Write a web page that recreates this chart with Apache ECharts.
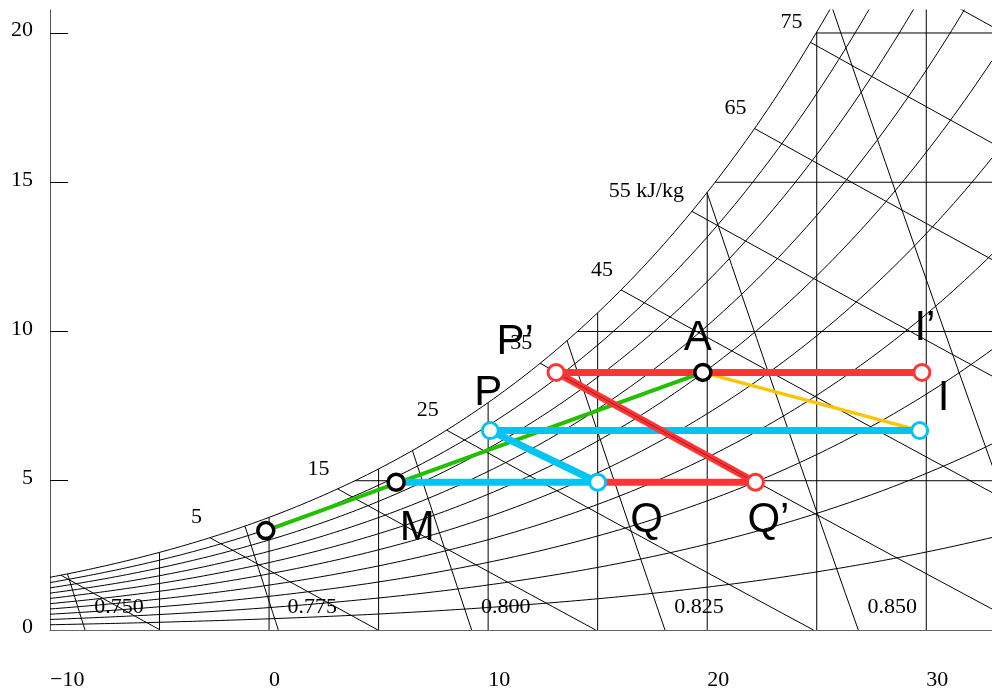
<!DOCTYPE html>
<html>
<head>
<meta charset="utf-8">
<script src="https://cdn.jsdelivr.net/npm/echarts@6/dist/echarts.min.js"></script>
<style>
  html, body { margin: 0; padding: 0; background: #fff; }
  #chart { width: 992px; height: 691px; }
</style>
</head>
<body>
<div id="chart"></div>
<script>
// axis ticks
const tempTicks = [-10, 0, 10, 20, 30];
const humTicks = [5, 10, 15, 20];

// chart grid levels
const dryBulbLines = [-5, 0, 5, 10, 15, 20, 25, 30];
const humidityLines = [5, 10, 15, 20];
const rhLevels = [0.1, 0.2, 0.3, 0.4, 0.5, 0.6, 0.7, 0.8, 0.9, 1.0];
const enthalpyLevels = [-5, 5, 15, 25, 35, 45, 55, 65, 75, 85];
const enthalpyLabels = ['', '5', '15', '25', '35', '45', '55 kJ/kg', '65', '75', ''];
const volumeLevels = [0.750, 0.775, 0.800, 0.825, 0.850, 0.875];
const volumeLabels = ['0.750', '0.775', '0.800', '0.825', '0.850', ''];

// state points: dry bulb (°C), humidity ratio (g/kg)
const pointNames = ['O', 'M', 'A', 'P', 'Q', 'P’', 'Q’', 'I', 'I’'];
const pointTemp = [-0.15, 5.8, 19.8, 10.1, 15.0, 13.1, 22.2, 29.7, 29.8];
const pointHum = [3.33, 4.95, 8.63, 6.68, 4.95, 8.63, 4.95, 6.68, 8.63];

// processes
const processFrom = ['O', 'M', 'P', 'P', 'A', 'Q', 'P’', 'P’'];
const processTo = ['A', 'Q', 'Q', 'I', 'I', 'Q’', 'Q’', 'I’'];

const T_MIN = -10, T_MAX = 33, W_MAX = 20.77, P_ATM = 101.325;

// styles
const colors = { black: '#000', red: '#ff3535', blue: '#00c4f4', green: '#22c000', yellow: '#f9c600' };
const processStyle = [
  { c: 'green', w: 4, z: 3 }, { c: 'blue', w: 7, z: 4 }, { c: 'blue', w: 7, z: 4 }, { c: 'blue', w: 7, z: 4 },
  { c: 'yellow', w: 3.5, z: 3 }, { c: 'red', w: 7, z: 5 }, { c: 'red', w: 7, z: 5 }, { c: 'red', w: 7, z: 5 }
];
const pointColor = { 'O': 'black', 'M': 'black', 'A': 'black', 'P': 'blue', 'Q': 'blue', 'I': 'blue', 'P’': 'red', 'Q’': 'red', 'I’': 'red' };
const letterOffset = {
  'M': [21, 46], 'A': [-5, -34], 'P': [-2, -37], 'Q': [49, 38],
  'P’': [-41, -30], 'Q’': [13, 38], 'I’': [3, -44], 'I': [24, -32]
};

// psychrometric relations
function satPressure(t) { return 0.61094 * Math.exp(17.625 * t / (t + 243.04)); }
function humRatio(t, rh) { const pw = rh * satPressure(t); return 622 * pw / (P_ATM - pw); }
function bisect(f, a, b) {
  for (let i = 0; i < 60; i++) {
    const m = (a + b) / 2;
    if (f(a) * f(m) <= 0) b = m; else a = m;
  }
  return (a + b) / 2;
}
function satTemp(w) { return bisect(t => humRatio(t, 1) - w, -40, 60); }
function enthalpyT(h, w) { return (h - 2.501 * w) / (1.006 + 0.00186 * w); }
function volumeT(v, w) { return v * P_ATM / (0.287042 * (1 + 0.0016078 * w)) - 273.15; }
function lineToSaturation(tOfW) {
  const wSat = bisect(w => humRatio(tOfW(w), 1) - w, 0, 40);
  const pts = [];
  for (let i = 0; i <= 12; i++) {
    const w = wSat * i / 12;
    pts.push([tOfW(w), w]);
  }
  return pts;
}

const series = [];
function gridCurve(data) {
  series.push({
    type: 'line', data, symbol: 'none', silent: true, animation: false, z: 2,
    lineStyle: { color: '#000', width: 1 }
  });
}

rhLevels.forEach(rh => {
  const pts = [];
  for (let t = T_MIN; t <= T_MAX + 0.001; t += 0.25) pts.push([t, humRatio(t, rh)]);
  gridCurve(pts);
});
dryBulbLines.forEach(t => gridCurve([[t, 0], [t, humRatio(t, 1)]]));
humidityLines.forEach(w => gridCurve([[satTemp(w), w], [T_MAX, w]]));

const enthalpyLines = enthalpyLevels.map(h => lineToSaturation(w => enthalpyT(h, w)));
enthalpyLines.forEach(gridCurve);
const volumeLines = volumeLevels.map(v => lineToSaturation(w => volumeT(v, w)));
volumeLines.forEach(gridCurve);

const serifText = { fontFamily: 'Liberation Serif', fontSize: 22, color: '#000' };

// enthalpy labels at saturation end
series.push({
  type: 'scatter', symbolSize: 0, silent: true, animation: false, z: 6,
  itemStyle: { opacity: 1 },
  data: enthalpyLines.map((pts, i) => ({ value: pts[pts.length - 1], name: enthalpyLabels[i] })),
  label: { show: true, position: 'inside', align: 'right', verticalAlign: 'middle', offset: [-8, -20], formatter: p => p.name, ...serifText }
});
// volume labels near bottom
series.push({
  type: 'scatter', symbolSize: 0, silent: true, animation: false, z: 6,
  itemStyle: { opacity: 1 },
  data: volumeLines.map((pts, i) => ({ value: pts[0], name: volumeLabels[i] })),
  label: { show: true, position: 'inside', align: 'center', verticalAlign: 'middle', offset: [34, -23], formatter: p => p.name, ...serifText }
});

// process lines
const idx = n => pointNames.indexOf(n);
const pt = n => [pointTemp[idx(n)], pointHum[idx(n)]];
processFrom.forEach((from, i) => {
  const s = processStyle[i];
  series.push({
    type: 'line', data: [pt(from), pt(processTo[i])], symbol: 'none', silent: true, animation: false, z: s.z,
    lineStyle: { color: colors[s.c], width: s.w, cap: 'butt' }
  });
});
// thin dark core on P'-Q'
series.push({
  type: 'line', data: [pt('P’'), pt('Q’')], symbol: 'none', silent: true, animation: false, z: 6,
  lineStyle: { color: '#7a1515', width: 1, opacity: 0.75 }
});

// state point circles and letters
series.push({
  type: 'scatter', silent: true, animation: false, z: 7, symbol: 'circle', symbolSize: 16,
  data: pointNames.map((n, i) => ({
    value: [pointTemp[i], pointHum[i]], name: n,
    itemStyle: { color: '#fff', opacity: 1, borderColor: colors[pointColor[n]], borderWidth: pointColor[n] === 'black' ? 3.5 : 3 },
    label: letterOffset[n] ? { show: true, offset: letterOffset[n] } : { show: false }
  })),
  label: {
    position: 'inside', align: 'center', verticalAlign: 'middle', formatter: p => p.name,
    fontFamily: 'Liberation Sans', fontSize: 42, color: '#000'
  }
});

const chart = echarts.init(document.getElementById('chart'), null, { renderer: 'canvas' });
chart.setOption({
  animation: false,
  backgroundColor: '#fff',
  grid: { left: 50, right: 0, top: 10, bottom: 61, containLabel: false },
  xAxis: {
    type: 'value', min: T_MIN, max: T_MAX, interval: 10,
    axisLine: { show: true, onZero: false, lineStyle: { color: '#666', width: 1 } },
    axisTick: { show: false },
    splitLine: { show: false },
    axisLabel: {
      customValues: tempTicks, margin: 39, align: 'left',
      formatter: v => String(v).replace('-', '\u2212'), ...serifText
    }
  },
  yAxis: {
    type: 'value', min: 0, max: W_MAX, interval: 5,
    axisLine: { show: true, onZero: false, lineStyle: { color: '#555', width: 1 } },
    axisTick: { show: true, inside: true, length: 18, customValues: humTicks, lineStyle: { color: '#000', width: 1 } },
    splitLine: { show: false },
    axisLabel: {
      customValues: [0].concat(humTicks), margin: 17, align: 'right', verticalAlign: 'bottom', lineHeight: 5,
      formatter: v => String(v), ...serifText
    }
  },
  series
});
</script>
</body>
</html>
